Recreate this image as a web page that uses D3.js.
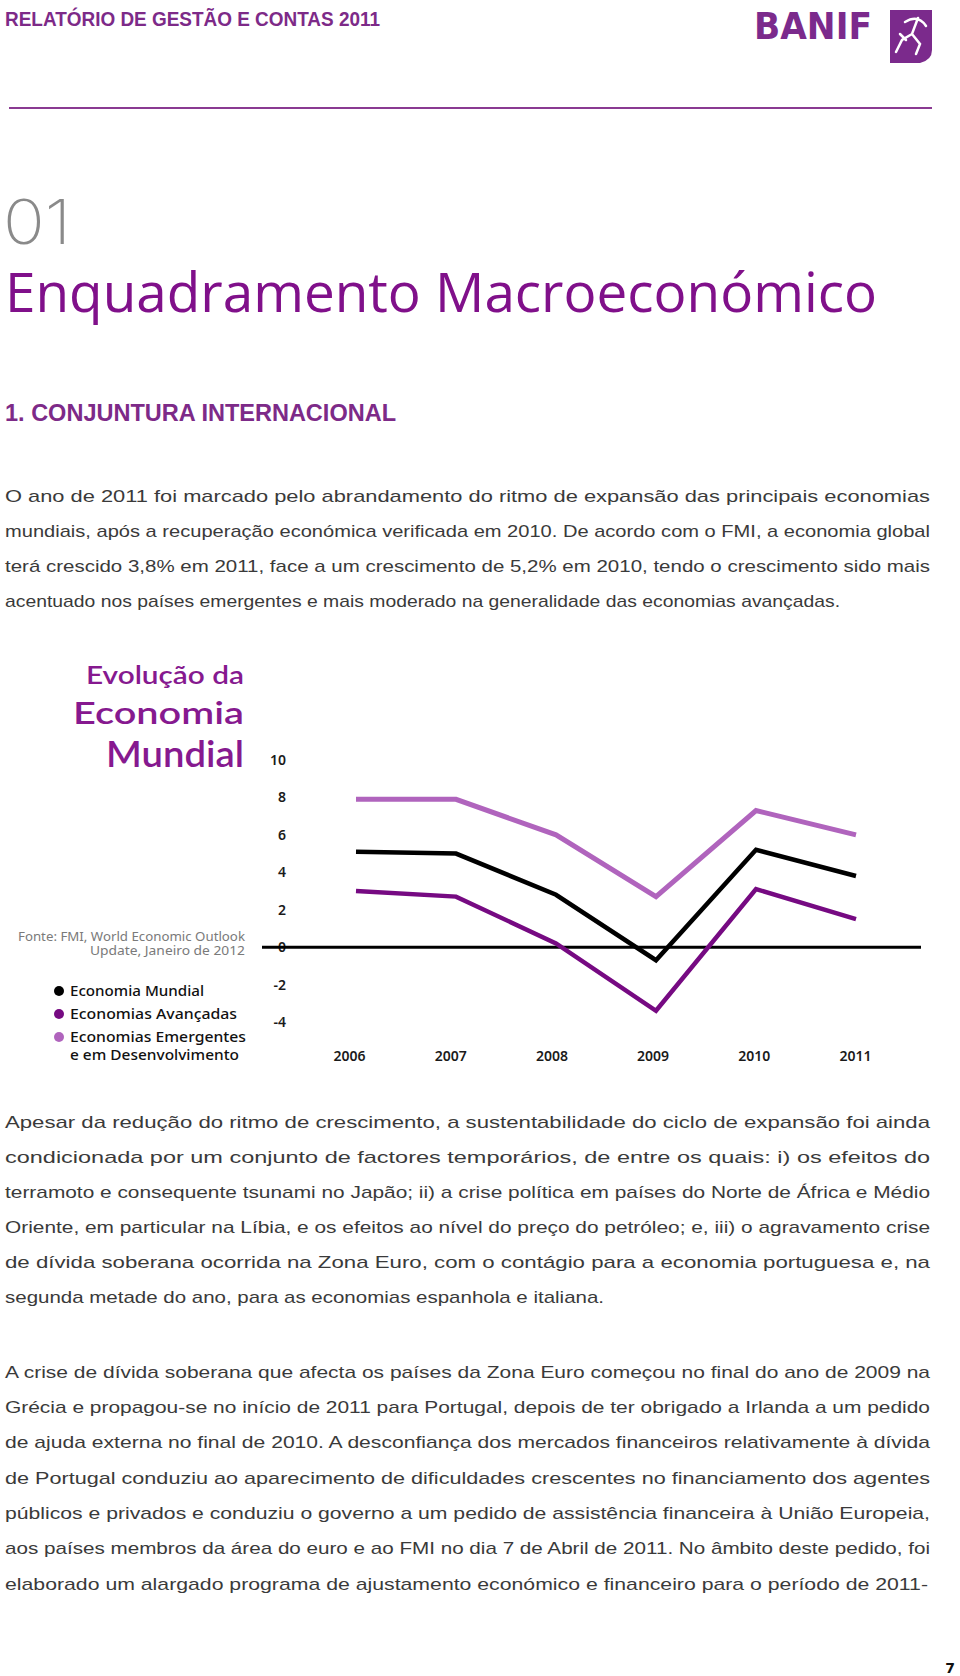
<!DOCTYPE html>
<html><head><meta charset="utf-8">
<script src="https://cdn.jsdelivr.net/npm/d3@7"></script>
<style>body{margin:0;background:#fff}svg{display:block}</style>
</head><body><svg id="page" width="960" height="1676"></svg>
<script>
// ---- data ----
const years = ["2006", "2007", "2008", "2009", "2010", "2011"];
const economiaMundial = [5.1, 5.0, 2.8, -0.7, 5.2, 3.8];
const economiasAvancadas = [3.0, 2.7, 0.2, -3.4, 3.1, 1.5];
const economiasEmergentes = [7.9, 7.9, 6.0, 2.7, 7.3, 6.0];
const yTicks = [10, 8, 6, 4, 2, 0, -2, -4];
const legendLabels = [["Economia Mundial"], ["Economias Avançadas"], ["Economias Emergentes", "e em Desenvolvimento"]];
const chartTitle = ["Evolução da", "Economia", "Mundial"];
const sourceLines = ["Fonte: FMI, World Economic Outlook", "Update, Janeiro de 2012"];
const par1 = [
  "O ano de 2011 foi marcado pelo abrandamento do ritmo de expansão das principais economias",
  "mundiais, após a recuperação económica verificada em 2010. De acordo com o FMI, a economia global",
  "terá crescido 3,8% em 2011, face a um crescimento de 5,2% em 2010, tendo o crescimento sido mais",
  "acentuado nos países emergentes e mais moderado na generalidade das economias avançadas."
];
const par2 = [
  "Apesar da redução do ritmo de crescimento, a sustentabilidade do ciclo de expansão foi ainda",
  "condicionada por um conjunto de factores temporários, de entre os quais: i) os efeitos do",
  "terramoto e consequente tsunami no Japão; ii) a crise política em países do Norte de África e Médio",
  "Oriente, em particular na Líbia, e os efeitos ao nível do preço do petróleo; e, iii) o agravamento crise",
  "de dívida soberana ocorrida na Zona Euro, com o contágio para a economia portuguesa e, na",
  "segunda metade do ano, para as economias espanhola e italiana."
];
const par3 = [
  "A crise de dívida soberana que afecta os países da Zona Euro começou no final do ano de 2009 na",
  "Grécia e propagou-se no início de 2011 para Portugal, depois de ter obrigado a Irlanda a um pedido",
  "de ajuda externa no final de 2010. A desconfiança dos mercados financeiros relativamente à dívida",
  "de Portugal conduziu ao aparecimento de dificuldades crescentes no financiamento dos agentes",
  "públicos e privados e conduziu o governo a um pedido de assistência financeira à União Europeia,",
  "aos países membros da área do euro e ao FMI no dia 7 de Abril de 2011. No âmbito deste pedido, foi",
  "elaborado um alargado programa de ajustamento económico e financeiro para o período de 2011-"
];

// ---- styles ----
const seriesStyle = [
  {values: economiasEmergentes, color: "#b064bd", width: 5},
  {values: economiaMundial, color: "#000000", width: 4.5},
  {values: economiasAvancadas, color: "#760a82", width: 4.5}
];
const legendColors = ["#000000", "#760a82", "#b064bd"];
const bodyFont = "'Liberation Sans Narrow','Liberation Sans',Arial,sans-serif";
const chartFont = "'Noto Sans','Open Sans',sans-serif";
const titleFont = "Lato,'Noto Sans',sans-serif";

const svg = d3.select("#page");

// ---- header ----
svg.append("text").attr("x", 5).attr("y", 26)
  .attr("font-family", bodyFont).attr("font-weight", "bold").attr("font-size", 21)
  .attr("fill", "#7d2a88").attr("textLength", 375).attr("lengthAdjust", "spacingAndGlyphs")
  .text("RELATÓRIO DE GESTÃO E CONTAS 2011");

svg.append("text").attr("x", 754).attr("y", 39)
  .attr("font-family", "'DejaVu Sans',sans-serif").attr("font-weight", "bold").attr("font-size", 38)
  .attr("fill", "#7b2a8c").attr("textLength", 118).attr("lengthAdjust", "spacingAndGlyphs")
  .text("BANIF");
// logo emblem
svg.append("path").attr("d", "M890,10 H932 V50 Q932,60 920,63 H890 Z").attr("fill", "#7b2a8c");
svg.append("path")
  .attr("d", "M905,22 Q918,14 926,26 M918,18 L912,34 L902,40 L896,52 M912,34 L920,44 L916,54 M906,40 L900,34")
  .attr("fill", "none").attr("stroke", "#fff").attr("stroke-width", 2.5).attr("stroke-linecap", "round");

svg.append("line").attr("x1", 9).attr("x2", 932).attr("y1", 108).attr("y2", 108)
  .attr("stroke", "#8a3a92").attr("stroke-width", 2);

// ---- titles ----
svg.append("text").attr("x", 3).attr("y", 244)
  .attr("font-family", "Inter,'DejaVu Sans',sans-serif").attr("font-weight", 200).attr("font-size", 62)
  .attr("fill", "#8a8a8a").attr("textLength", 68).attr("lengthAdjust", "spacingAndGlyphs")
  .text("01");

svg.append("text").attr("x", 5).attr("y", 312)
  .attr("font-family", "'Open Sans','DejaVu Sans',sans-serif").attr("font-size", 54)
  .attr("fill", "#80108a").attr("textLength", 872).attr("lengthAdjust", "spacingAndGlyphs")
  .text("Enquadramento Macroeconómico");

svg.append("text").attr("x", 5).attr("y", 421)
  .attr("font-family", bodyFont).attr("font-weight", "bold").attr("font-size", 23)
  .attr("fill", "#7d2a88").attr("textLength", 391).attr("lengthAdjust", "spacingAndGlyphs")
  .text("1. CONJUNTURA INTERNACIONAL");

// ---- paragraphs ----
function paragraph(lines, baselines, widths) {
  svg.append("g").selectAll("text").data(lines).join("text")
    .attr("x", 5).attr("y", (d, i) => baselines[i])
    .attr("font-family", bodyFont).attr("font-size", 17).attr("fill", "#3a3a3a")
    .attr("textLength", (d, i) => widths[i]).attr("lengthAdjust", "spacingAndGlyphs")
    .text(d => d);
}
paragraph(par1, [502, 537, 572, 607], [925, 925, 925, 835]);
paragraph(par2, [1128, 1163, 1198, 1233, 1268, 1303], [925, 925, 925, 925, 925, 599]);
paragraph(par3, [1378, 1413, 1448, 1484, 1519, 1554, 1590], [925, 925, 925, 925, 925, 925, 923]);

svg.append("text").attr("x", 955).attr("y", 1673).attr("text-anchor", "end")
  .attr("font-family", "'DejaVu Sans',sans-serif").attr("font-weight", "bold").attr("font-size", 14)
  .attr("fill", "#111").text("7");

// ---- chart ----
const y = d3.scaleLinear().domain([-4, 10]).range([1022, 760]);
const x = d3.scalePoint().domain(years).range([356, 856]);
const xLab = d3.scalePoint().domain(years).range([349, 855]);

// title
const titleSizes = [25, 31, 37];
const titleBase = [684, 724, 767];
const titleW = [158, 171, 138];
svg.append("g").selectAll("text").data(chartTitle).join("text")
  .attr("x", 244).attr("y", (d, i) => titleBase[i]).attr("text-anchor", "end")
  .attr("font-family", titleFont).attr("font-weight", 600).attr("font-size", (d, i) => titleSizes[i])
  .attr("fill", "#86198f")
  .attr("textLength", (d, i) => titleW[i]).attr("lengthAdjust", "spacingAndGlyphs")
  .text(d => d);

// source
const srcW = [227, 155];
svg.append("g").selectAll("text").data(sourceLines).join("text")
  .attr("x", 245).attr("y", (d, i) => 941 + i * 14).attr("text-anchor", "end")
  .attr("font-family", chartFont).attr("font-size", 12).attr("fill", "#7a7a7a")
  .attr("textLength", (d, i) => srcW[i]).attr("lengthAdjust", "spacingAndGlyphs")
  .text(d => d);

// legend
const legW = [[134], [167], [176, 169]];
const lg = svg.append("g");
legendLabels.forEach((lines, i) => {
  const cy = 991 + i * 23;
  lg.append("circle").attr("cx", 59).attr("cy", cy).attr("r", 5).attr("fill", legendColors[i]);
  lines.forEach((t, j) => {
    lg.append("text").attr("x", 70).attr("y", cy + 5 + j * 17.5)
      .attr("font-family", chartFont).attr("font-weight", 500).attr("font-size", 15)
      .attr("fill", "#111")
      .attr("textLength", legW[i][j]).attr("lengthAdjust", "spacingAndGlyphs")
      .text(t);
  });
});

// y axis labels
const yAxis = svg.append("g").attr("transform", "translate(286,0)")
  .call(d3.axisLeft(y).tickValues(yTicks).tickSize(0).tickPadding(0).tickFormat(d => String(d)));
yAxis.select(".domain").remove();
yAxis.selectAll("text").attr("font-family", chartFont).attr("font-weight", 600)
  .attr("font-size", 14).attr("fill", "#1a1a1a");

// x axis labels
const xAxis = svg.append("g").attr("transform", "translate(0,1051)")
  .call(d3.axisBottom(xLab).tickSize(0).tickPadding(0));
xAxis.select(".domain").remove();
xAxis.selectAll("text").attr("font-family", chartFont).attr("font-weight", 600)
  .attr("font-size", 14).attr("fill", "#1a1a1a");

// zero line
svg.append("line").attr("x1", 262).attr("x2", 921).attr("y1", y(0)).attr("y2", y(0))
  .attr("stroke", "#000").attr("stroke-width", 3);

const line = d3.line().x((d, i) => x(years[i])).y(d => y(d));
svg.append("g").selectAll("path").data(seriesStyle).join("path")
  .attr("d", d => line(d.values)).attr("fill", "none")
  .attr("stroke", d => d.color).attr("stroke-width", d => d.width)
  .attr("stroke-linejoin", "miter");
</script>
</body></html>
